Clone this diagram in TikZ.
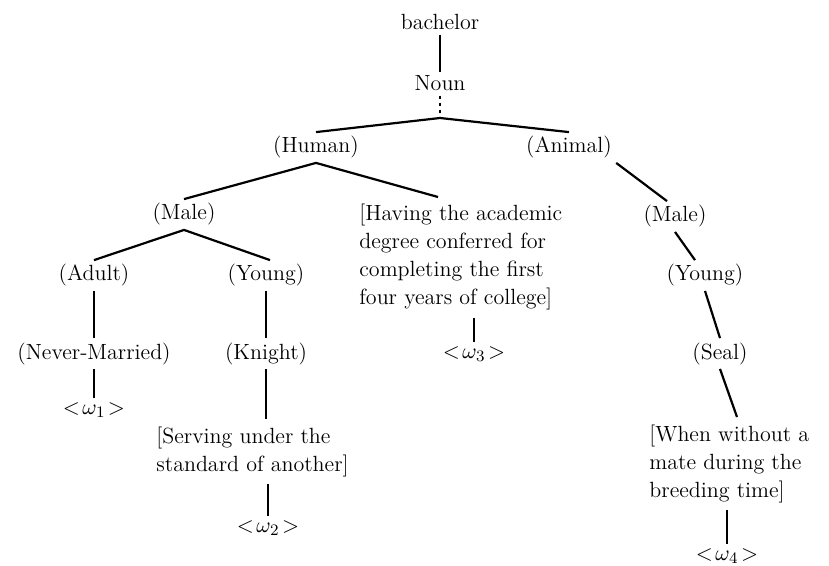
\documentclass[tikz,border=0pt]{standalone}
\usetikzlibrary{calc}
\begin{document}
\begin{tikzpicture}[x=0.5pt,y=-0.5pt,
  every node/.style={inner sep=2pt, font=\fontsize{11}{14}\selectfont},
  lab/.style={anchor=base},
  blk/.style={anchor=base west},
  conn/.style={line width=1.1pt},
  dotconn/.style={line width=1.1pt, dash pattern=on 1.5pt off 2pt}]
\useasboundingbox (0,0) rectangle (829,566);

\node[lab] (bachelor) at (440,30) {bachelor};
\node[lab] (noun) at (440,91) {Noun};
\coordinate (nb) at (440,118);
\node[lab] (human) at (316,153) {(Human)};
\node[lab] (animal) at (569,153) {(Animal)};
\node[lab] (maleL) at (184,220) {(Male)};
\node[blk] (having) at (355,221) {\begin{tabular}[t]{@{}l@{}}{[}Having the academic\\degree conferred for\\completing the first\\four years of college{]}\end{tabular}};
\node[lab] (maleR) at (675,222) {(Male)};
\node[lab] (adult) at (94,281) {(Adult)};
\node[lab] (youngL) at (266,281) {(Young)};
\node[lab] (youngR) at (705,281) {(Young)};
\node[lab] (never) at (94,359) {(Never-Married)};
\node[lab] (knight) at (266,359) {(Knight)};
\node[lab] (seal) at (720,359) {(Seal)};
\node[lab] (w3) at (474,358) {$<\!\omega_3\!>$};
\node[lab] (w1) at (94,414) {$<\!\omega_1\!>$};
\node[blk] (serving) at (152,443) {\begin{tabular}[t]{@{}l@{}}{[}Serving under the\\standard of another{]}\end{tabular}};
\node[blk] (when) at (645,441) {\begin{tabular}[t]{@{}l@{}}{[}When without a\\mate during the\\breeding time{]}\end{tabular}};
\node[lab] (w2) at (268,532) {$<\!\omega_2\!>$};
\node[lab] (w4) at (727,560) {$<\!\omega_4\!>$};

\draw[conn] (bachelor.south) -- (noun.north);
\draw[dotconn] (noun.south) -- (nb);
\draw[conn] (human.north) -- (nb) -- (animal.north);
\draw[conn] (maleL.north) -- (human.south) -- ($(having.north west)+(83,0)$);
\draw[conn] (adult.north) -- (maleL.south) -- ($(youngL.north)+(4,0)$);
\draw[conn] (adult.south) -- (never.north);
\draw[conn] (youngL.south) -- (knight.north);
\draw[conn] (never.south) -- (w1.north);
\draw[conn] (knight.south) -- (knight.south |- serving.north);
\draw[conn] (w2.north |- serving.south) -- (w2.north);
\draw[conn] (w3.north |- having.south) -- (w3.north);
\draw[conn] (animal.south east) -- ($(maleR.north)+(-8,0)$);
\draw[conn] (maleR.south) -- ($(youngR.north)+(-10,0)$);
\draw[conn] (youngR.south) -- (seal.north);
\draw[conn] (seal.south) -- ($(when.north west)+(92,0)$);
\draw[conn] (w4.north |- when.south) -- (w4.north);
\end{tikzpicture}
\end{document}
